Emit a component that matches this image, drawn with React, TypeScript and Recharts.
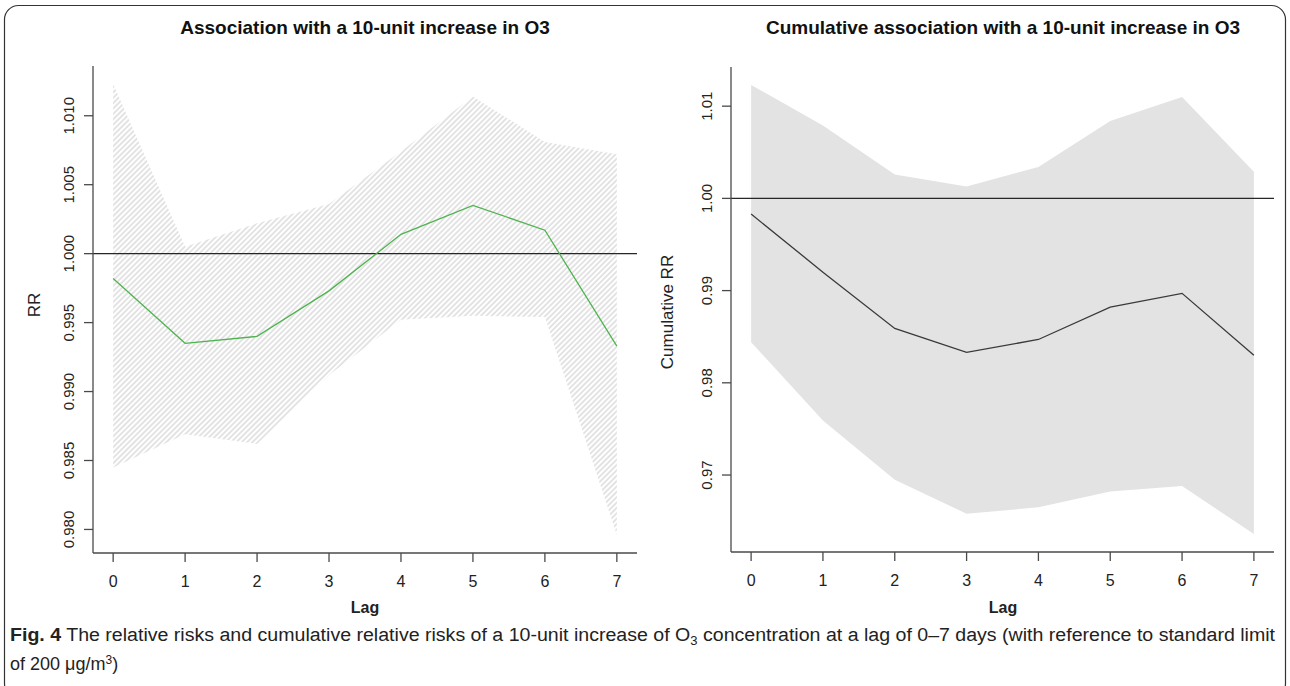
import { ComposedChart, Area, Line, XAxis, YAxis, ReferenceLine } from "recharts";

// Distributed-lag RR for O3 (two R base plots side by side).

const lags = [0, 1, 2, 3, 4, 5, 6, 7];

// left panel: RR per lag with 95% CI (hatched band)
const rr = [0.9982, 0.9935, 0.994, 0.9973, 1.0014, 1.0035, 1.0017, 0.9933];
const rrLow = [0.9845, 0.9869, 0.9862, 0.9912, 0.9952, 0.9955, 0.9954, 0.9796];
const rrHigh = [1.0123, 1.0005, 1.0022, 1.0036, 1.0074, 1.0114, 1.0081, 1.0072];

// right panel: cumulative RR with 95% CI (grey band)
const cumRr = [0.9983, 0.992, 0.9859, 0.9833, 0.9847, 0.9882, 0.9897, 0.983];
const cumLow = [0.9844, 0.9759, 0.9695, 0.9658, 0.9665, 0.9682, 0.9688, 0.9636];
const cumHigh = [1.0123, 1.0079, 1.0026, 1.0013, 1.0034, 1.0084, 1.011, 1.0029];

const rrTicks = [0.98, 0.985, 0.99, 0.995, 1.0, 1.005, 1.01];
const cumTicks = [0.97, 0.98, 0.99, 1.0, 1.01];

const leftTitle = "Association with a 10-unit increase in O3";
const rightTitle = "Cumulative association with a 10-unit increase in O3";

const FONT = "'Liberation Sans', Arial, sans-serif";
const AXIS = "#4a4a4a";

// R pads each axis range by 4%
function rRange(lo: number, hi: number): [number, number] {
  const pad = (hi - lo) * 0.04;
  return [lo - pad, hi + pad];
}

const lagDomain = rRange(Math.min(...lags), Math.max(...lags));
const rrDomain = rRange(Math.min(...rrLow), Math.max(...rrHigh));
const cumDomain = rRange(Math.min(...cumLow), Math.max(...cumHigh));

const leftRows = lags.map((lag, i) => ({ lag, est: rr[i], band: [rrLow[i], rrHigh[i]] }));
const rightRows = lags.map((lag, i) => ({ lag, est: cumRr[i], band: [cumLow[i], cumHigh[i]] }));

const XTick = (props: any) => {
  const { x, y, payload } = props;
  return (
    <text x={x} y={y + 25} textAnchor="middle" fontSize={16} fill="#222" fontFamily={FONT}>
      {payload.value}
    </text>
  );
};

const makeYTick = (digits: number) => (props: any) => {
  const { x, y, payload } = props;
  const bx = x - 10;
  return (
    <text
      x={bx}
      y={y}
      transform={`rotate(-90, ${bx}, ${y})`}
      textAnchor="middle"
      fontSize={15}
      fill="#222"
      fontFamily={FONT}
    >
      {Number(payload.value).toFixed(digits)}
    </text>
  );
};

function Panel({
  rows,
  domain,
  ticks,
  digits,
  lineColor,
  bandFill,
  margin,
}: {
  rows: any[];
  domain: [number, number];
  ticks: number[];
  digits: number;
  lineColor: string;
  bandFill: string;
  margin: { top: number; right: number; bottom: number; left: number };
}) {
  return (
    <ComposedChart width={645} height={600} data={rows} margin={margin}>
      <defs>
        <pattern id="hatch" patternUnits="userSpaceOnUse" width="3.8" height="6" patternTransform="rotate(45)">
          <line x1="1" y1="0" x2="1" y2="6" stroke="#d2d2d2" strokeWidth="1.2" />
        </pattern>
      </defs>
      <XAxis
        type="number"
        dataKey="lag"
        domain={lagDomain}
        ticks={lags}
        allowDataOverflow
        interval={0}
        height={40}
        tickSize={9}
        tickMargin={0}
        axisLine={{ stroke: AXIS, strokeWidth: 1.3 }}
        tickLine={{ stroke: AXIS, strokeWidth: 1.3 }}
        tick={XTick}
      />
      <YAxis
        type="number"
        domain={domain}
        ticks={ticks}
        allowDataOverflow
        interval={0}
        width={60}
        tickSize={9}
        tickMargin={0}
        axisLine={{ stroke: AXIS, strokeWidth: 1.3 }}
        tickLine={{ stroke: AXIS, strokeWidth: 1.3 }}
        tick={makeYTick(digits)}
      />
      <Area
        dataKey="band"
        type="linear"
        stroke="none"
        fill={bandFill}
        fillOpacity={1}
        dot={false}
        activeDot={false}
        isAnimationActive={false}
      />
      <ReferenceLine y={1} stroke="#262626" strokeWidth={1.3} />
      <Line
        dataKey="est"
        type="linear"
        stroke={lineColor}
        strokeWidth={1.3}
        dot={false}
        activeDot={false}
        isAnimationActive={false}
      />
    </ComposedChart>
  );
}

export default function App() {
  return (
    <div style={{ position: "absolute", left: 0, top: 0, width: 1290, height: 686, background: "#fff", overflow: "hidden" }}>
      <div style={{ position: "absolute", left: 0, top: 0 }}>
        <Panel
          rows={leftRows}
          domain={rrDomain}
          ticks={rrTicks}
          digits={3}
          lineColor="#4fb34f"
          bandFill="url(#hatch)"
          margin={{ top: 66, right: 8, bottom: 7, left: 33 }}
        />
      </div>
      <div style={{ position: "absolute", left: 645, top: 0 }}>
        <Panel
          rows={rightRows}
          domain={cumDomain}
          ticks={cumTicks}
          digits={2}
          lineColor="#3a3a3a"
          bandFill="#e3e3e3"
          margin={{ top: 67, right: 16, bottom: 8, left: 26 }}
        />
      </div>
      <svg
        width={1290}
        height={686}
        style={{ position: "absolute", left: 0, top: 0, pointerEvents: "none" }}
        fontFamily={FONT}
      >
        <rect x={4.5} y={5.5} width={1281} height={692} rx={14} fill="none" stroke="#333" strokeWidth={1.2} />
        <text x={365} y={34} textAnchor="middle" fontSize={19} fontWeight="bold" fill="#111">
          {leftTitle}
        </text>
        <text x={1003} y={34} textAnchor="middle" fontSize={19} fontWeight="bold" fill="#111">
          {rightTitle}
        </text>
        <text x={40} y={305} transform="rotate(-90, 40, 305)" textAnchor="middle" fontSize={17} fill="#222">
          RR
        </text>
        <text x={673} y={312} transform="rotate(-90, 673, 312)" textAnchor="middle" fontSize={17} fill="#222">
          Cumulative RR
        </text>
        <text x={365} y={613} textAnchor="middle" fontSize={16} fontWeight="bold" fill="#222">
          Lag
        </text>
        <text x={1003} y={613} textAnchor="middle" fontSize={16} fontWeight="bold" fill="#222">
          Lag
        </text>
        <text x={10} y={641} fontSize={18} fill="#222" textLength={1265} lengthAdjust="spacingAndGlyphs">
          <tspan fontWeight="bold">Fig. 4</tspan>
          <tspan>{"  The relative risks and cumulative relative risks of a 10-unit increase of O"}</tspan>
          <tspan dy={4} fontSize={12}>3</tspan>
          <tspan dy={-4}>{" concentration at a lag of 0–7 days (with reference to standard limit"}</tspan>
        </text>
        <text x={10} y={670} fontSize={18} fill="#222">
          <tspan>{"of 200 μg/m"}</tspan>
          <tspan dy={-6} fontSize={12}>3</tspan>
          <tspan dy={6}>)</tspan>
        </text>
      </svg>
    </div>
  );
}
